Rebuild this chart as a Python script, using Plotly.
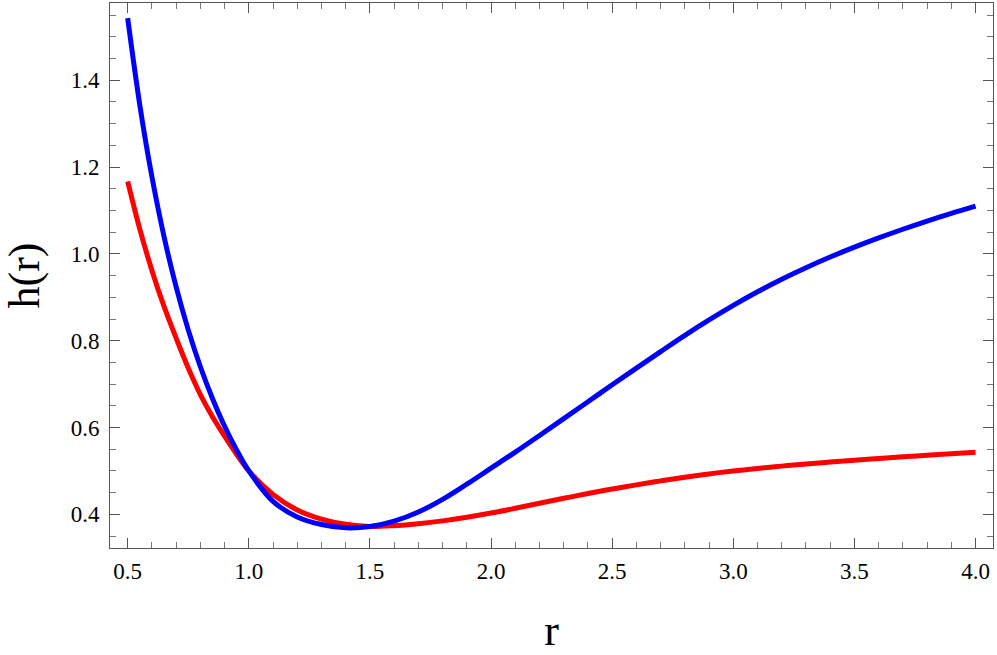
import plotly.graph_objects as go

# ── Data ──────────────────────────────────────────────────────────────────────

r_blue = [0.5, 0.55, 0.6, 0.65, 0.7, 0.75, 0.8, 0.85, 0.9, 0.95, 1.0, 1.1, 1.2,
          1.3, 1.4, 1.5, 1.6, 1.7, 1.8, 1.9, 2.0, 2.1, 2.2, 2.3, 2.4, 2.5, 2.6,
          2.7, 2.8, 2.9, 3.0, 3.1, 3.2, 3.3, 3.4, 3.5, 3.6, 3.7, 3.8, 3.9, 4.0]
h_blue = [1.543, 1.343, 1.178, 1.040, 0.924, 0.825, 0.740, 0.667, 0.603, 0.548,
          0.500, 0.430, 0.394, 0.3765, 0.369, 0.372, 0.3845, 0.4055, 0.4345,
          0.4695, 0.5065, 0.5435, 0.5818, 0.6205, 0.6595, 0.6985, 0.737, 0.775,
          0.8125, 0.848, 0.8815, 0.9128, 0.9418, 0.9683, 0.9928, 1.0155, 1.0368,
          1.0568, 1.0756, 1.0933, 1.110]

r_red = [0.5, 0.55, 0.6, 0.65, 0.7, 0.75, 0.8, 0.85, 0.9, 0.95, 1.0, 1.1, 1.2,
         1.3, 1.4, 1.5, 1.6, 1.7, 1.8, 1.9, 2.0, 2.1, 2.2, 2.3, 2.4, 2.5, 2.6,
         2.7, 2.8, 2.9, 3.0, 3.1, 3.2, 3.3, 3.4, 3.5, 3.6, 3.7, 3.8, 3.9, 4.0]
h_red = [1.167, 1.057, 0.962, 0.879, 0.806, 0.737, 0.676, 0.625, 0.580, 0.538,
         0.500, 0.446, 0.410, 0.389, 0.377, 0.372, 0.374, 0.3785, 0.385, 0.3933,
         0.403, 0.414, 0.4255, 0.437, 0.448, 0.4583, 0.468, 0.4771, 0.4855,
         0.4932, 0.5001, 0.5059, 0.5111, 0.5159, 0.5204, 0.5246, 0.5287, 0.5326,
         0.5363, 0.5398, 0.5432]

x_ticks = [0.5, 1.0, 1.5, 2.0, 2.5, 3.0, 3.5, 4.0]
y_ticks = [0.4, 0.6, 0.8, 1.0, 1.2, 1.4]

FONT = "Liberation Serif"
AX = "#555555"

fig = go.Figure()
fig.add_trace(go.Scatter(x=r_red, y=h_red, mode="lines", line_shape="spline",
                         line=dict(color="#ff0000", width=5), showlegend=False))
fig.add_trace(go.Scatter(x=r_blue, y=h_blue, mode="lines", line_shape="spline",
                         line=dict(color="#0000ff", width=5), showlegend=False))

axis_common = dict(
    showgrid=False, zeroline=False,
    showline=True, linecolor=AX, linewidth=1, mirror="allticks",
    ticks="inside", ticklen=10, tickwidth=1, tickcolor=AX,
    tickfont=dict(family=FONT, size=23, color="black"),
    tickformat=".1f",
)

fig.update_layout(
    width=997, height=655,
    paper_bgcolor="white", plot_bgcolor="white",
    margin=dict(l=110, r=4, t=3, b=107),
    font=dict(family=FONT, color="black"),
    xaxis=dict(
        **axis_common,
        range=[0.427, 4.072], tickvals=x_ticks, ticklabelstandoff=2,
        minor=dict(ticks="inside", dtick=0.1, tick0=0.5, ticklen=6,
                   tickwidth=1, tickcolor="#777777"),
        title=dict(text="r", font=dict(family=FONT, size=44, color="black"),
                   standoff=35),
    ),
    yaxis=dict(
        **axis_common,
        range=[0.3225, 1.578], tickvals=y_ticks, ticklabelstandoff=5,
        minor=dict(ticks="inside", dtick=0.05, tick0=0.0, ticklen=6,
                   tickwidth=1, tickcolor="#777777"),
        title=dict(text="h(r)", font=dict(family=FONT, size=44, color="black"),
                   standoff=21),
    ),
)

# page body has a default 8px margin; drop it so the figure sits at (0, 0)
fig.write_html("out.html", config={"displayModeBar": False},
               post_script="document.body.style.margin='0px';")
